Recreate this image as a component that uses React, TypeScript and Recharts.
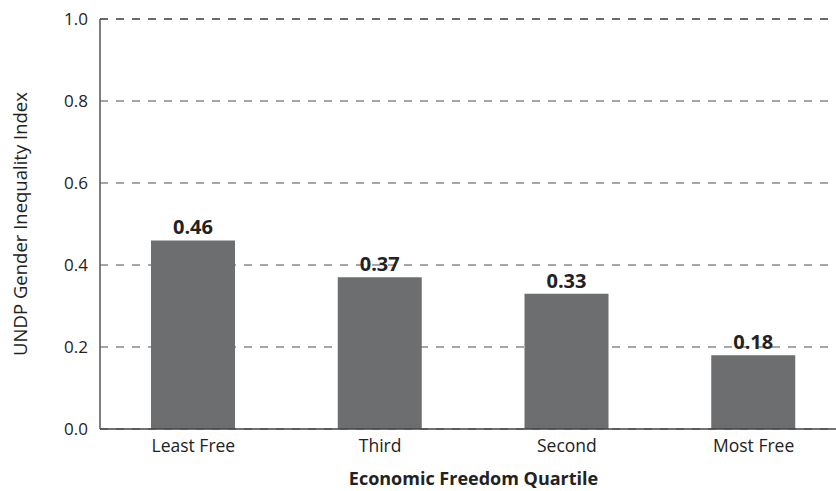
import React from "react";
import { BarChart, Bar, XAxis, YAxis, CartesianGrid, LabelList, ReferenceLine } from "recharts";

const categories = ["Least Free", "Third", "Second", "Most Free"];
const values = [0.46, 0.37, 0.33, 0.18];
const yTicks = [0, 0.2, 0.4, 0.6, 0.8, 1.0];

const data = categories.map((c, i) => ({ name: c, value: values[i] }));

const FONT = "'Open Sans', sans-serif";

export default function App() {
  return (
    <div style={{ position: "absolute", left: 0, top: 0, width: 836, height: 491, overflow: "hidden", background: "#fff" }}>
      <BarChart width={850} height={491} data={data} margin={{ top: 19, right: 3, bottom: 0, left: 0 }}>
        <CartesianGrid vertical={false} stroke="#8a8a8a" strokeDasharray="8 8" strokeWidth={1.3} />
        <ReferenceLine y={1} stroke="#555" strokeDasharray="8 8" strokeWidth={1.3} />
        <XAxis
          dataKey="name"
          tickLine={false}
          tickSize={0}
          tickMargin={11}
          axisLine={{ stroke: "#444", strokeWidth: 1.5 }}
          tick={{ fill: "#222", fontSize: 17.5, fontFamily: FONT }}
          height={62}
          label={{ value: "Economic Freedom Quartile", position: "insideBottom", offset: 6, style: { fill: "#222", fontSize: 18, fontWeight: 700, fontFamily: FONT } }}
        />
        <YAxis
          domain={[0, 1]}
          ticks={yTicks}
          tickFormatter={(v: number) => v.toFixed(1)}
          tickLine={false}
          tickSize={0}
          tickMargin={12}
          width={100}
          axisLine={{ stroke: "#555", strokeWidth: 1.5 }}
          tick={{ fill: "#222", fontSize: 17, fontFamily: FONT }}
          label={{ value: "UNDP Gender Inequality Index", angle: -90, position: "insideLeft", offset: 20, style: { textAnchor: "middle", fill: "#222", fontSize: 18.5, fontFamily: FONT } }}
        />
        <Bar dataKey="value" fill="#6d6e70" barSize={84} isAnimationActive={false}>
          <LabelList dataKey="value" position="top" offset={6} formatter={(v: number) => v.toFixed(2)} style={{ fill: "#222", fontSize: 20, fontWeight: 700, fontFamily: FONT }} />
        </Bar>
      </BarChart>
    </div>
  );
}
